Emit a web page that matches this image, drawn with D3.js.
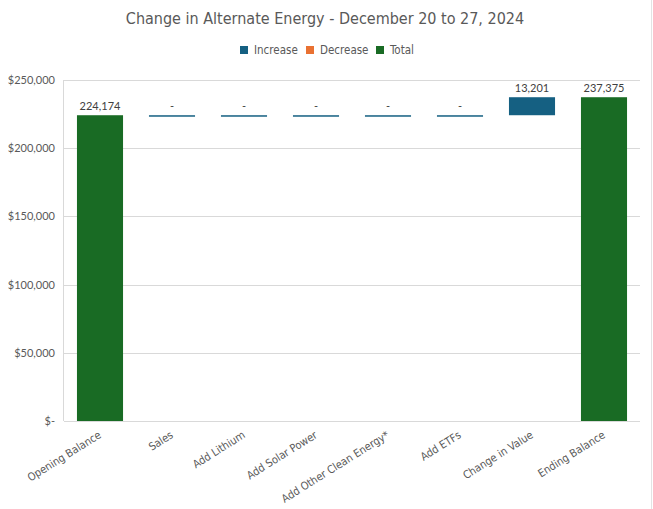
<!DOCTYPE html>
<html>
<head>
<meta charset="utf-8">
<script src="https://cdn.jsdelivr.net/npm/d3@7"></script>
<style>
  body { margin: 0; background: #fff; }
  svg { display: block; }
</style>
</head>
<body>
<svg id="chart" width="653" height="509"></svg>
<script>
// data
const categories = ['Opening Balance', 'Sales', 'Add Lithium', 'Add Solar Power',
  'Add  Other Clean Energy*', 'Add ETFs', 'Change in Value', 'Ending Balance']
const amounts = [224174, 0, 0, 0, 0, 0, 13201, 237375]
const kinds = ['total', 'increase', 'increase', 'increase', 'increase', 'increase', 'increase', 'total']
const yTicks = [0, 50000, 100000, 150000, 200000, 250000]
const legendItems = ['Increase', 'Decrease', 'Total']

const colors = { increase: '#156082', decrease: '#E97132', total: '#196B24' }
const narrow = '"Liberation Sans Narrow", "DejaVu Sans Condensed", sans-serif'
const textColor = '#595959'

const width = 653, height = 509
const margin = { top: 80, right: 13, bottom: 88, left: 64 }

const svg = d3.select('#chart')

// running totals for the waterfall
let running = 0
const steps = categories.map((c, i) => {
  let y0, y1
  if (kinds[i] === 'total') {
    y0 = 0; y1 = amounts[i]; running = amounts[i]
  } else {
    y0 = running; y1 = running + amounts[i]; running = y1
  }
  return { cat: c, kind: kinds[i], value: amounts[i], y0: y0, y1: y1 }
})

const x = d3.scaleBand()
  .domain(categories)
  .range([margin.left, width - margin.right])
  .paddingInner(0.36)
  .paddingOuter(0.18)

const y = d3.scaleLinear()
  .domain([0, 250000])
  .range([height - margin.bottom, margin.top])

// spreadsheet cell edge at the right
svg.append('line')
  .attr('x1', 651.5).attr('x2', 651.5).attr('y1', 0).attr('y2', height)
  .attr('stroke', '#e3e3e3')

// gridlines
svg.append('g')
  .selectAll('line')
  .data(yTicks)
  .enter()
  .append('line')
  .attr('x1', margin.left)
  .attr('x2', width - margin.right)
  .attr('y1', d => Math.round(y(d)) + 0.5)
  .attr('y2', d => Math.round(y(d)) + 0.5)
  .attr('stroke', '#d9d9d9')

svg.append('line')
  .attr('x1', margin.left - 0.5).attr('x2', margin.left - 0.5)
  .attr('y1', y(250000)).attr('y2', y(0))
  .attr('stroke', '#d9d9d9')

// y axis labels
const yAxis = d3.axisLeft(y)
  .tickValues(yTicks)
  .tickSize(0)
  .tickPadding(9)
  .tickFormat(d => d === 0 ? '$-' : '$' + d3.format(',')(d))

svg.append('g')
  .attr('transform', `translate(${margin.left},0)`)
  .call(yAxis)
  .call(g => g.select('.domain').remove())
  .selectAll('text')
  .attr('fill', textColor)
  .style('font-family', 'Lato, sans-serif')
  .style('font-size', '11px')

// bars
svg.append('g')
  .selectAll('rect')
  .data(steps)
  .enter()
  .append('rect')
  .attr('x', d => x(d.cat))
  .attr('width', x.bandwidth())
  .attr('y', d => y(Math.max(d.y0, d.y1)))
  .attr('height', d => Math.max(1.5, Math.abs(y(d.y0) - y(d.y1))))
  .attr('fill', d => colors[d.kind])

// data labels
svg.append('g')
  .selectAll('text')
  .data(steps)
  .enter()
  .append('text')
  .attr('x', d => x(d.cat) + x.bandwidth() / 2)
  .attr('y', d => y(Math.max(d.y0, d.y1)) - 5)
  .attr('text-anchor', 'middle')
  .attr('fill', '#404040')
  .style('font-family', 'Lato, sans-serif')
  .style('font-size', '11px')
  .text(d => d.value === 0 ? '-' : d3.format(',')(d.value))

// x axis line + category labels
svg.append('line')
  .attr('x1', margin.left).attr('x2', width - margin.right)
  .attr('y1', Math.round(y(0)) + 0.5).attr('y2', Math.round(y(0)) + 0.5)
  .attr('stroke', '#d9d9d9')

const xAxis = d3.axisBottom(x).tickSize(0).tickPadding(0)
svg.append('g')
  .attr('transform', `translate(0,${y(0)})`)
  .call(xAxis)
  .call(g => g.select('.domain').remove())
  .selectAll('text')
  .attr('fill', textColor)
  .attr('text-anchor', 'end')
  .attr('dy', 0)
  .attr('transform', 'translate(2,16) rotate(-32)')
  .style('font-family', narrow)
  .style('font-size', '11px')

// title
svg.append('text')
  .attr('x', 325)
  .attr('y', 24)
  .attr('text-anchor', 'middle')
  .attr('fill', textColor)
  .style('font-family', narrow)
  .style('font-size', '16px')
  .text('Change in Alternate Energy - December 20 to 27, 2024')

// legend
const legendX = [240, 306, 376]
const legend = svg.append('g')
  .selectAll('g')
  .data(legendItems)
  .enter()
  .append('g')
  .attr('transform', (d, i) => `translate(${legendX[i]},46)`)

legend.append('rect')
  .attr('width', 8).attr('height', 8)
  .attr('fill', d => colors[d.toLowerCase()])

legend.append('text')
  .attr('x', 14)
  .attr('y', 8)
  .attr('fill', textColor)
  .style('font-family', narrow)
  .style('font-size', '11.5px')
  .text(d => d)
</script>
</body>
</html>
